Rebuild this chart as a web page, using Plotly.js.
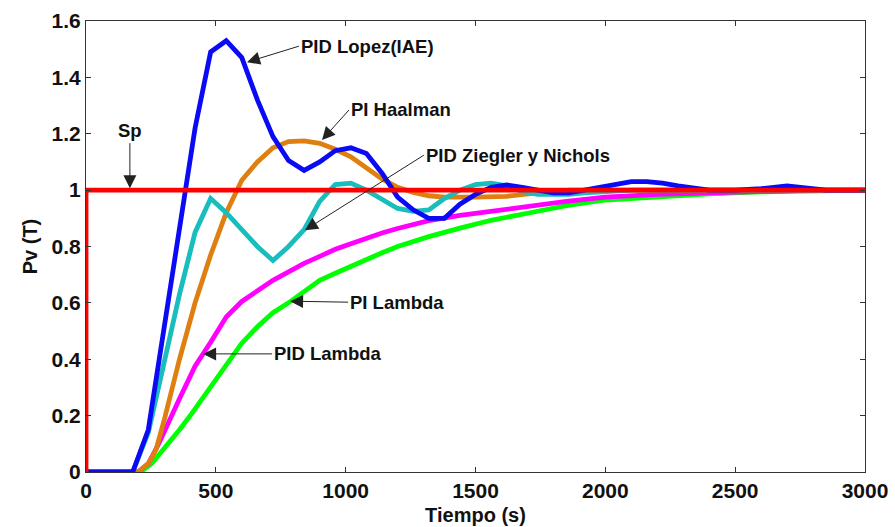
<!DOCTYPE html>
<html>
<head>
<meta charset="utf-8">
<script src="https://cdn.plot.ly/plotly-3.0.1.min.js"></script>
<style>html,body{margin:0;padding:0;background:#fff;}#chart{width:895px;height:527px;}</style>
</head>
<body>
<div id="chart"></div>
<script>
// PID Lopez (IAE) - blue
var tLopez = [0,180,240,300,360,420,480,540,600,660,720,780,840,900,960,1020,1080,1140,1200,1260,1320,1380,1440,1500,1560,1620,1680,1740,1800,1860,1920,1980,2040,2100,2160,2220,2280,2340,2400,2500,2600,2700,2780,2850,3000];
var pvLopez = [0,0,0.15,0.5,0.87,1.22,1.49,1.53,1.47,1.32,1.19,1.105,1.07,1.1,1.14,1.15,1.13,1.06,0.975,0.93,0.9,0.9,0.95,0.985,1.01,1.018,1.01,1.0,0.99,0.99,1.0,1.008,1.02,1.03,1.03,1.025,1.015,1.007,1.0,1.0,1.005,1.015,1.005,1.0,1.0];
// PID Ziegler y Nichols - cyan
var tZN = [0,180,240,300,360,420,480,540,600,660,720,780,840,900,960,1020,1080,1140,1200,1260,1320,1380,1440,1500,1560,1620,1680,1740,1800,1860,1920,2000,2100,2200,2400,2600,3000];
var pvZN = [0,0,0.14,0.38,0.63,0.85,0.97,0.92,0.86,0.8,0.75,0.8,0.86,0.96,1.02,1.025,1.0,0.965,0.935,0.925,0.93,0.97,1.0,1.02,1.025,1.015,0.995,0.985,0.985,0.985,0.99,0.995,1.0,1.0,1.0,1.0,1.0];
// PI Haalman - orange
var tHaal = [0,200,240,270,300,360,420,480,540,600,660,720,780,840,900,960,1020,1080,1140,1200,1260,1320,1380,1500,1620,1740,1860,2000,3000];
var pvHaal = [0,0,0.03,0.08,0.18,0.4,0.6,0.77,0.92,1.035,1.1,1.15,1.172,1.175,1.166,1.145,1.118,1.08,1.04,1.01,0.992,0.98,0.975,0.975,0.978,0.99,1.0,1.0,1.0];
// PID Lambda - magenta
var tPIDL = [0,200,240,280,360,420,480,540,600,660,720,780,840,900,960,1020,1080,1140,1200,1320,1440,1560,1700,1850,2000,2200,2400,2600,2800,3000];
var pvPIDL = [0,0,0.03,0.1,0.26,0.375,0.46,0.55,0.605,0.645,0.68,0.71,0.74,0.765,0.79,0.81,0.83,0.848,0.864,0.892,0.91,0.925,0.94,0.96,0.975,0.985,0.99,0.995,1.0,1.0];
// PI Lambda - green
var tPIL = [0,210,253,300,360,407,480,540,600,660,720,780,840,900,960,1020,1080,1140,1200,1320,1440,1560,1700,1850,2000,2200,2400,2600,2800,3000];
var pvPIL = [0,0,0.03,0.08,0.15,0.207,0.3,0.38,0.457,0.515,0.565,0.6,0.64,0.68,0.705,0.73,0.755,0.778,0.8,0.835,0.865,0.893,0.918,0.945,0.965,0.978,0.987,0.994,0.998,1.0];
// Setpoint Sp - red
var tSp = [0,0,3000];
var pvSp = [0,1,1];

var xTicks = [0,500,1000,1500,2000,2500,3000];
var yTicks = [0,0.2,0.4,0.6,0.8,1,1.2,1.4,1.6];

var LW = 4.8;
function tr(x, y, color){
  return {x:x, y:y, type:'scatter', mode:'lines', line:{color:color, width:LW}, hoverinfo:'skip', showlegend:false};
}
var data = [
  tr(tPIL, pvPIL, '#00FF00'),
  tr(tPIDL, pvPIDL, '#FF00FF'),
  tr(tHaal, pvHaal, '#DE7F10'),
  tr(tZN, pvZN, '#19BDBD'),
  tr(tLopez, pvLopez, '#0A0AF5'),
  tr(tSp, pvSp, '#FF0000')
];

var F = 'Liberation Sans, Arial, Helvetica, sans-serif';
function ann(text, x, y, ax, ay, xanchor, yanchor){
  return {text:text, x:x, y:y, xref:'x', yref:'y', ax:ax, ay:ay, showarrow:true,
    arrowhead:2, arrowsize:2.6, arrowwidth:1, arrowcolor:'#222', standoff:0,
    xanchor:xanchor, yanchor:yanchor, font:{family:F, size:18.5, color:'#111', weight:'bold'}};
}
var annotations = [
  ann('PID Lopez(IAE)', 620, 1.454, 52, -16, 'left', 'middle'),
  ann('PI Haalman', 909, 1.178, 27, -30, 'left', 'middle'),
  ann('PID Ziegler y Nichols', 843, 0.858, 119, -75, 'left', 'middle'),
  ann('Sp', 169, 1.007, 0, -45, 'center', 'bottom'),
  ann('PI Lambda', 786, 0.606, 58, 1, 'left', 'middle'),
  ann('PID Lambda', 451, 0.419, 69, 0, 'left', 'middle')
];

var layout = {
  width:895, height:527,
  margin:{l:86, r:30, t:21, b:55},
  paper_bgcolor:'#fff', plot_bgcolor:'#fff',
  font:{family:F, color:'#111'},
  xaxis:{range:[0,3000], tickvals:xTicks, ticks:'inside', ticklen:5, tickcolor:'#333',
    showline:true, linecolor:'#333', linewidth:1, mirror:'ticks', showgrid:false, zeroline:false,
    tickfont:{family:F, size:21, weight:'bold', color:'#111'},
    title:{text:'Tiempo (s)', font:{family:F, size:20, weight:'bold', color:'#111'}, standoff:6}},
  yaxis:{range:[0,1.6], tickvals:yTicks, ticks:'inside', ticklen:5, tickcolor:'#333',
    showline:true, linecolor:'#333', linewidth:1, mirror:'ticks', showgrid:false, zeroline:false,
    tickfont:{family:F, size:21, weight:'bold', color:'#111'},
    title:{text:'Pv (T)', font:{family:F, size:20, weight:'bold', color:'#111'}, standoff:8}},
  annotations:annotations
};
Plotly.newPlot('chart', data, layout, {staticPlot:true, displayModeBar:false});
</script>
</body>
</html>
